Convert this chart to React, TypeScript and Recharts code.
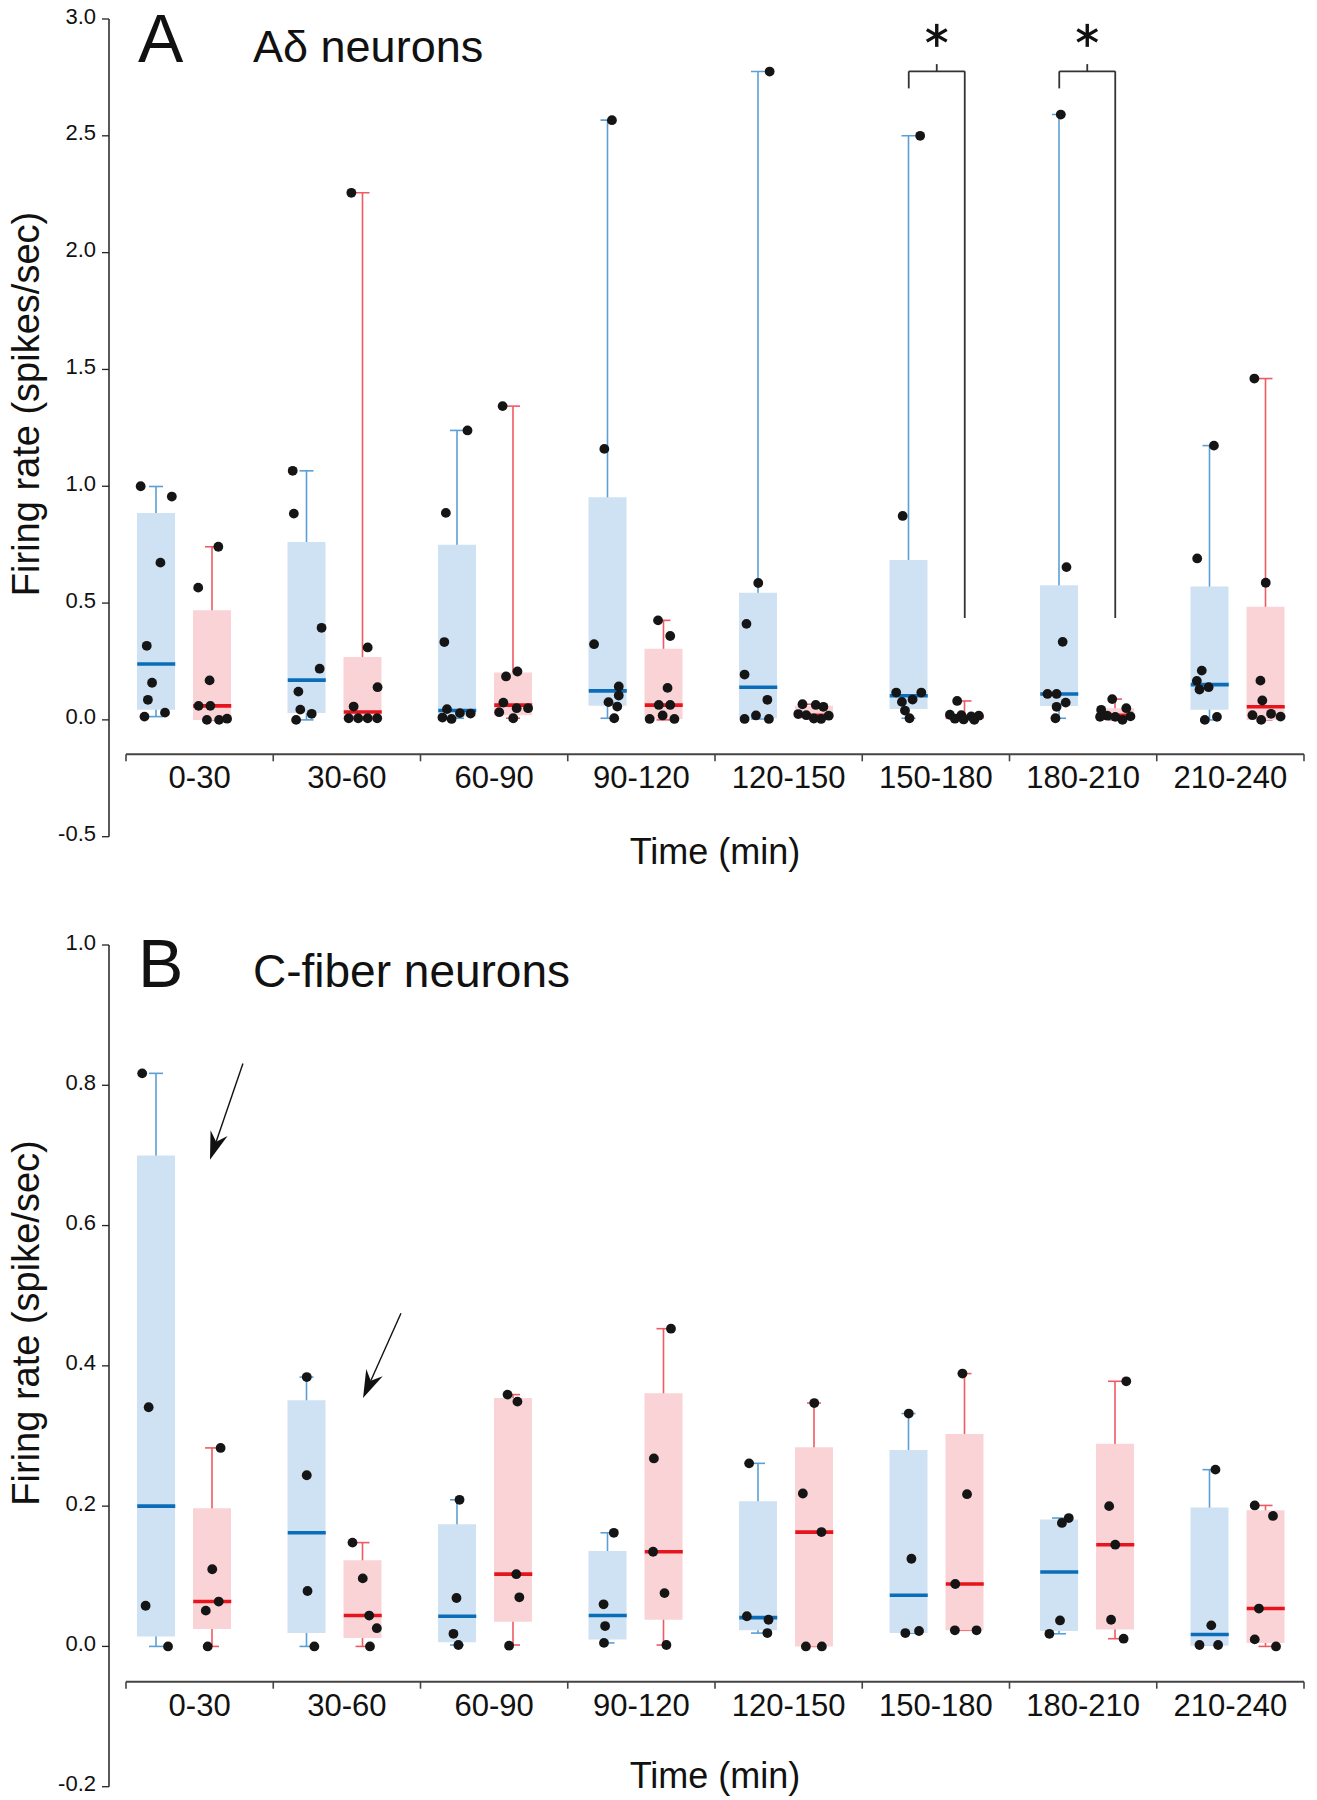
import React from 'react';
import { ComposedChart, Bar, Scatter, XAxis, YAxis, ReferenceLine, ReferenceDot } from 'recharts';

// ---------------- data ----------------
const CATEGORIES = ['0-30', '30-60', '60-90', '90-120', '120-150', '150-180', '180-210', '210-240'];
const X_TICKS = [0, 0.5, 1, 1.5, 2, 2.5, 3, 3.5, 4, 4.5, 5, 5.5, 6, 6.5, 7, 7.5, 8];
const A_Y_TICKS = [-0.5, 0, 0.5, 1, 1.5, 2, 2.5, 3];
const B_Y_TICKS = [-0.2, 0, 0.2, 0.4, 0.6, 0.8, 1];

// Panel A (Aδ neurons) — blue group
const A_BLUE_MIN = [0.014, 0.0, 0.007, 0.007, 0.004, 0.007, 0.007, 0.0];
const A_BLUE_Q1 = [0.043, 0.029, 0.014, 0.06, 0.007, 0.047, 0.059, 0.043];
const A_BLUE_MED = [0.239, 0.17, 0.04, 0.124, 0.14, 0.103, 0.111, 0.151];
const A_BLUE_Q3 = [0.886, 0.761, 0.75, 0.953, 0.544, 0.684, 0.576, 0.571];
const A_BLUE_MAX = [0.999, 1.066, 1.239, 2.567, 2.775, 2.5, 2.591, 1.174];
const A_BLUE_PTS = [
  [1.0, 0.956, 0.673, 0.317, 0.159, 0.086, 0.031, 0.014],
  [1.066, 0.883, 0.394, 0.219, 0.121, 0.044, 0.026, 0.0],
  [1.239, 0.886, 0.333, 0.046, 0.029, 0.027, 0.01, 0.004],
  [2.567, 1.16, 0.324, 0.143, 0.104, 0.076, 0.057, 0.007],
  [2.775, 0.586, 0.411, 0.194, 0.086, 0.019, 0.004, 0.004],
  [2.5, 0.873, 0.117, 0.117, 0.087, 0.077, 0.04, 0.007],
  [2.591, 0.654, 0.334, 0.111, 0.111, 0.074, 0.056, 0.007],
  [1.174, 0.691, 0.211, 0.167, 0.14, 0.13, 0.013, 0.0],
];
// Panel A — red group
const A_RED_MIN = [0.0, 0.0, 0.007, 0.0, 0.004, 0.0, 0.0, 0.0];
const A_RED_Q1 = [0.0, 0.0, 0.02, 0.004, 0.005, 0.002, 0.005, 0.0];
const A_RED_MED = [0.06, 0.034, 0.063, 0.063, 0.02, 0.014, 0.02, 0.056];
const A_RED_Q3 = [0.469, 0.269, 0.203, 0.304, 0.06, 0.022, 0.05, 0.484];
const A_RED_MAX = [0.741, 2.256, 1.343, 0.426, 0.067, 0.081, 0.089, 1.461];
const A_RED_PTS = [
  [0.741, 0.566, 0.169, 0.06, 0.06, 0.005, 0.0, 0.0],
  [2.256, 0.31, 0.14, 0.057, 0.007, 0.007, 0.007, 0.007],
  [1.343, 0.207, 0.186, 0.074, 0.05, 0.05, 0.033, 0.007],
  [0.426, 0.359, 0.137, 0.064, 0.064, 0.019, 0.004, 0.004],
  [0.067, 0.064, 0.056, 0.025, 0.02, 0.018, 0.006, 0.004],
  [0.081, 0.022, 0.02, 0.018, 0.015, 0.005, 0.002, 0.0],
  [0.089, 0.05, 0.043, 0.018, 0.015, 0.013, 0.013, 0.0],
  [1.461, 0.587, 0.168, 0.083, 0.026, 0.02, 0.014, 0.0],
];

// Panel B (C-fiber neurons) — blue group
const B_BLUE_MIN = [0.0, 0.0, 0.002, 0.005, 0.019, 0.019, 0.018, 0.002];
const B_BLUE_Q1 = [0.014, 0.019, 0.006, 0.01, 0.023, 0.019, 0.022, 0.001];
const B_BLUE_MED = [0.2, 0.162, 0.043, 0.044, 0.041, 0.073, 0.106, 0.017];
const B_BLUE_Q3 = [0.7, 0.351, 0.174, 0.136, 0.207, 0.28, 0.181, 0.198];
const B_BLUE_MAX = [0.817, 0.384, 0.209, 0.162, 0.261, 0.332, 0.183, 0.252];
const B_BLUE_PTS = [
  [0.817, 0.341, 0.058, 0.0],
  [0.384, 0.244, 0.079, 0.0],
  [0.209, 0.069, 0.018, 0.002],
  [0.162, 0.06, 0.029, 0.005],
  [0.261, 0.043, 0.038, 0.019],
  [0.332, 0.125, 0.022, 0.019],
  [0.183, 0.176, 0.037, 0.018],
  [0.252, 0.03, 0.002, 0.002],
];
// Panel B — red group
const B_RED_MIN = [0.0, 0.0, 0.002, 0.002, 0.0, 0.023, 0.011, 0.0];
const B_RED_Q1 = [0.025, 0.012, 0.035, 0.038, 0.0, 0.023, 0.024, 0.005];
const B_RED_MED = [0.064, 0.044, 0.103, 0.135, 0.163, 0.089, 0.145, 0.054];
const B_RED_Q3 = [0.197, 0.123, 0.354, 0.361, 0.284, 0.303, 0.289, 0.194];
const B_RED_MAX = [0.283, 0.148, 0.359, 0.453, 0.347, 0.389, 0.378, 0.201];
const B_RED_PTS = [
  [0.283, 0.11, 0.064, 0.051, 0.0],
  [0.148, 0.097, 0.044, 0.026, 0.0],
  [0.359, 0.349, 0.103, 0.07, 0.001],
  [0.453, 0.268, 0.135, 0.076, 0.002],
  [0.347, 0.218, 0.163, 0.0, 0.0],
  [0.389, 0.217, 0.089, 0.023, 0.023],
  [0.378, 0.2, 0.145, 0.038, 0.011],
  [0.201, 0.186, 0.054, 0.01, 0.0],
];

// ---------------- layout (not data) ----------------
// horizontal jitter of each dot, as a fraction of the box width
const A_BLUE_JIT = [
  [-0.41, 0.41, 0.11, -0.25, -0.11, -0.22, 0.23, -0.31],
  [-0.37, -0.34, 0.39, 0.34, -0.22, -0.17, 0.13, -0.28],
  [0.27, -0.3, -0.34, -0.27, 0.07, 0.35, -0.39, -0.15],
  [0.11, -0.09, -0.36, 0.29, 0.29, 0.02, 0.25, 0.17],
  [0.3, 0, -0.31, -0.36, 0.24, -0.06, -0.36, 0.28],
  [0.3, -0.16, -0.33, 0.33, 0.1, -0.18, -0.1, 0.02],
  [0.04, 0.19, 0.09, -0.31, -0.07, 0.17, -0.07, -0.1],
  [0.11, -0.33, -0.21, -0.34, -0.03, -0.27, 0.19, -0.13],
];
const A_RED_JIT = [
  [0.16, -0.37, -0.07, -0.36, -0.05, 0.39, -0.14, 0.18],
  [-0.3, 0.13, 0.39, -0.24, -0.37, -0.12, 0.13, 0.38],
  [-0.28, 0.11, -0.19, -0.26, 0.09, 0.39, -0.37, 0],
  [-0.15, 0.17, 0.1, -0.13, 0.17, -0.03, -0.37, 0.28],
  [-0.31, 0.04, 0.24, -0.42, -0.21, 0.38, -0.01, 0.18],
  [-0.2, -0.39, -0.09, 0.37, 0.17, -0.26, -0.03, 0.25],
  [-0.08, 0.29, -0.37, -0.21, 0.4, -0.4, 0, 0.19],
  [-0.3, 0, -0.14, -0.09, 0.14, -0.35, 0.39, -0.12],
];
const B_BLUE_JIT = [
  [-0.37, -0.2, -0.28, 0.31],
  [0, 0, 0.02, 0.2],
  [0.06, -0.02, -0.1, 0.03],
  [0.16, -0.11, -0.07, -0.1],
  [-0.24, -0.3, 0.27, 0.24],
  [0, 0.07, 0.27, -0.09],
  [0.25, 0.07, 0.02, -0.26],
  [0.15, 0.04, -0.27, 0.22],
];
const B_RED_JIT = [
  [0.22, 0, 0.17, -0.17, -0.12],
  [-0.27, 0, 0.17, 0.37, 0.19],
  [-0.15, 0.11, 0.08, 0.16, -0.11],
  [0.19, -0.26, -0.28, 0.02, 0.07],
  [0, -0.3, 0.19, -0.22, 0.2],
  [-0.06, 0.06, -0.25, -0.26, 0.31],
  [0.29, -0.16, 0, -0.11, 0.22],
  [-0.29, 0.19, -0.18, -0.29, 0.27],
];

// significance brackets (panel A), in data units
const SIG_CATS = [5, 6];
const BRACKET_TOP = 2.776;
const BRACKET_LEFT_END = 2.703;
const BRACKET_RIGHT_END = 0.436;
const BRACKET_TICK = 2.807;
const STAR_Y = 2.93;
// arrows (panel B): [tailX, tailY, tipX, tipY] in data units (x = category index scale)
const B_ARROWS = [
  [0.89, 0.831, 0.671, 0.694],
  [1.94, 0.475, 1.688, 0.354],
];
// extent of the visible time axis (category index units)
const X_EXTENT = [{ x: 0, y: 0 }, { x: 8, y: 1 }];

const FONT = '"Liberation Sans", Arial, Helvetica, sans-serif';
const PAGE_W = 1317;
const PANEL_H = 900;
const PLOT_L = 109;
const PLOT_R = 1313;
const BAND = (PLOT_R - PLOT_L) / CATEGORIES.length;
const BAR = 38;
const GAP = 18;
const BLUE_OFF = 0.5 - (BAR + GAP) / 2 / BAND;
const RED_OFF = 0.5 + (BAR + GAP) / 2 / BAND;
const BAR_U = BAR / BAND;
const XAX_L = 126;
const XAX_R = 1304;

const BLUE_FILL = '#cfe2f3';
const RED_FILL = '#fad3d6';
const BLUE_MED = '#0b6cb7';
const RED_MED = '#e5141d';
const BLUE_WH = '#5a9fd6';
const RED_WH = '#ef5a63';
const DOT = '#151515';
const INK = '#111';

// ---------------- helpers ----------------
function boxRows(bMin, bQ1, bQ3, bMax, rMin, rQ1, rQ3, rMax) {
  return CATEGORIES.map((cat, i) => ({
    cat,
    bW: [bMin[i], bMax[i]],
    bB: [bQ1[i], bQ3[i]],
    rW: [rMin[i], rMax[i]],
    rB: [rQ1[i], rQ3[i]],
  }));
}
function medRows(med, off) {
  return med.map((v, i) => ({ x: i + off, y: v }));
}
function ptRows(pts, jit, off) {
  const rows = [];
  pts.forEach((g, i) => g.forEach((v, k) => rows.push({ x: i + off + jit[i][k] * BAR_U, y: v })));
  return rows;
}

const whiskerShape = (color) => (p) => {
  const cx = p.x + p.width / 2;
  const top = Math.min(p.y, p.y + p.height);
  const bot = Math.max(p.y, p.y + p.height);
  return (
    <g>
      <line x1={cx} x2={cx} y1={top} y2={bot} stroke={color} strokeWidth={1.6} />
      <line x1={cx - 7} x2={cx + 7} y1={top} y2={top} stroke={color} strokeWidth={1.6} />
      <line x1={cx - 7} x2={cx + 7} y1={bot} y2={bot} stroke={color} strokeWidth={1.6} />
    </g>
  );
};
const medianShape = (color) => (p) => (
  <line x1={p.cx - BAR / 2} x2={p.cx + BAR / 2} y1={p.cy} y2={p.cy} stroke={color} strokeWidth={3.6} />
);
const dotShape = (p) => <circle cx={p.cx} cy={p.cy} r={4.9} fill={DOT} />;
const emptyShape = () => <g />;
const starShape = (p) => {
  const r = 11.5;
  const a = r * Math.cos(Math.PI / 6);
  const b = r * Math.sin(Math.PI / 6);
  return (
    <g stroke={INK} strokeWidth={3.4} strokeLinecap="butt">
      <line x1={p.cx} x2={p.cx} y1={p.cy - r} y2={p.cy + r} />
      <line x1={p.cx - a} x2={p.cx + a} y1={p.cy - b} y2={p.cy + b} />
      <line x1={p.cx - a} x2={p.cx + a} y1={p.cy + b} y2={p.cy - b} />
    </g>
  );
};
const arrowShape = (p) => {
  const { x1, y1, x2, y2 } = p;
  const dx = x2 - x1;
  const dy = y2 - y1;
  const L = Math.hypot(dx, dy) || 1;
  const ux = dx / L;
  const uy = dy / L;
  const nx = -uy;
  const ny = ux;
  const len = 28;
  const hw = 9;
  const notch = 19;
  const bx = x2 - ux * len;
  const by = y2 - uy * len;
  const mx = x2 - ux * notch;
  const my = y2 - uy * notch;
  const pts = `${x2},${y2} ${bx + nx * hw},${by + ny * hw} ${mx},${my} ${bx - nx * hw},${by - ny * hw}`;
  return (
    <g>
      <line x1={x1} y1={y1} x2={mx} y2={my} stroke={INK} strokeWidth={1.4} />
      <polygon points={pts} fill={INK} />
    </g>
  );
};

const YTick = (p) => (
  <text x={p.x} y={p.y} dy={4.5} textAnchor="end" fontSize={22} fill={INK}>
    {Number(p.payload.value).toFixed(1)}
  </text>
);
const XTick = (p) => {
  const v = Number(p.payload.value);
  if (Number.isInteger(v)) {
    return <line x1={p.x} x2={p.x} y1={p.y} y2={p.y + 7} stroke="#444" strokeWidth={1.6} />;
  }
  return (
    <text x={p.x} y={p.y + 34} textAnchor="middle" fontSize={31} fill={INK}>
      {CATEGORIES[Math.floor(v)]}
    </text>
  );
};

function DataChart({ rows, bMed, rMed, bPts, rPts, domain, ticks, top, bottom, children }) {
  return (
    <ComposedChart
      width={PAGE_W}
      height={PANEL_H}
      data={rows}
      barGap={GAP}
      margin={{ top, right: PAGE_W - PLOT_R, bottom, left: PLOT_L - 60 }}
    >
      <XAxis xAxisId="w" dataKey="cat" hide />
      <XAxis xAxisId="b" dataKey="cat" hide />
      <XAxis xAxisId="num" dataKey="x" type="number" domain={[0, 8]} allowDataOverflow hide />
      <YAxis
        width={60}
        domain={domain}
        ticks={ticks}
        interval={0}
        allowDataOverflow
        tickSize={7}
        tickMargin={6}
        tick={YTick}
        tickLine={{ stroke: '#222', strokeWidth: 1.3 }}
        axisLine={{ stroke: '#222', strokeWidth: 1.5 }}
      />
      <Bar xAxisId="w" dataKey="bW" barSize={BAR} shape={whiskerShape(BLUE_WH)} isAnimationActive={false} />
      <Bar xAxisId="w" dataKey="rW" barSize={BAR} shape={whiskerShape(RED_WH)} isAnimationActive={false} />
      <Bar xAxisId="b" dataKey="bB" barSize={BAR} fill={BLUE_FILL} isAnimationActive={false} />
      <Bar xAxisId="b" dataKey="rB" barSize={BAR} fill={RED_FILL} isAnimationActive={false} />
      <Scatter xAxisId="num" data={bMed} dataKey="y" shape={medianShape(BLUE_MED)} isAnimationActive={false} />
      <Scatter xAxisId="num" data={rMed} dataKey="y" shape={medianShape(RED_MED)} isAnimationActive={false} />
      <Scatter xAxisId="num" data={bPts} dataKey="y" shape={dotShape} isAnimationActive={false} />
      <Scatter xAxisId="num" data={rPts} dataKey="y" shape={dotShape} isAnimationActive={false} />
      {children}
    </ComposedChart>
  );
}

function AxisChart({ top, bottom, height, offset }) {
  return (
    <ComposedChart width={PAGE_W} height={PANEL_H} margin={{ top, right: PAGE_W - XAX_R, bottom, left: XAX_L }}>
      <XAxis
        dataKey="x"
        type="number"
        domain={[0, 8]}
        ticks={X_TICKS}
        interval={0}
        tickSize={0}
        tickMargin={0}
        tickLine={false}
        axisLine={{ stroke: '#444', strokeWidth: 2 }}
        height={height}
        tick={XTick}
        label={{ value: 'Time (min)', position: 'insideBottom', offset, fontSize: 36, fill: INK }}
      />
      <YAxis hide domain={[0, 1]} />
      <Scatter data={X_EXTENT} dataKey="y" shape={emptyShape} isAnimationActive={false} />
    </ComposedChart>
  );
}

const lineStyle = { stroke: '#333', strokeWidth: 1.8 };

export default function App() {
  const rowsA = boxRows(A_BLUE_MIN, A_BLUE_Q1, A_BLUE_Q3, A_BLUE_MAX, A_RED_MIN, A_RED_Q1, A_RED_Q3, A_RED_MAX);
  const rowsB = boxRows(B_BLUE_MIN, B_BLUE_Q1, B_BLUE_Q3, B_BLUE_MAX, B_RED_MIN, B_RED_Q1, B_RED_Q3, B_RED_MAX);

  return (
    <div style={{ position: 'absolute', left: 0, top: 0, width: PAGE_W, height: 1800, fontFamily: FONT, background: '#fff' }}>
      <div style={{ position: 'absolute', left: 0, top: 0 }}>
        <DataChart
          rows={rowsA}
          bMed={medRows(A_BLUE_MED, BLUE_OFF)}
          rMed={medRows(A_RED_MED, RED_OFF)}
          bPts={ptRows(A_BLUE_PTS, A_BLUE_JIT, BLUE_OFF)}
          rPts={ptRows(A_RED_PTS, A_RED_JIT, RED_OFF)}
          domain={[-0.5, 3]}
          ticks={A_Y_TICKS}
          top={19}
          bottom={63.3}
        >
          {SIG_CATS.map((s) => {
            const xl = s + BLUE_OFF;
            const xr = s + RED_OFF;
            const xm = s + 0.5;
            return [
              <ReferenceLine key={`h${s}`} xAxisId="num" segment={[{ x: xl, y: BRACKET_TOP }, { x: xr, y: BRACKET_TOP }]} {...lineStyle} />,
              <ReferenceLine key={`l${s}`} xAxisId="num" segment={[{ x: xl, y: BRACKET_TOP }, { x: xl, y: BRACKET_LEFT_END }]} {...lineStyle} />,
              <ReferenceLine key={`r${s}`} xAxisId="num" segment={[{ x: xr, y: BRACKET_TOP }, { x: xr, y: BRACKET_RIGHT_END }]} {...lineStyle} />,
              <ReferenceLine key={`t${s}`} xAxisId="num" segment={[{ x: xm, y: BRACKET_TOP }, { x: xm, y: BRACKET_TICK }]} {...lineStyle} />,
              <ReferenceDot key={`s${s}`} xAxisId="num" x={xm} y={STAR_Y} shape={starShape} />,
            ];
          })}
        </DataChart>
      </div>
      <div style={{ position: 'absolute', left: 0, top: 0 }}>
        <AxisChart top={19} bottom={25.7} height={120} offset={10.3} />
      </div>

      <div style={{ position: 'absolute', left: 0, top: PANEL_H }}>
        <DataChart
          rows={rowsB}
          bMed={medRows(B_BLUE_MED, BLUE_OFF)}
          rMed={medRows(B_RED_MED, RED_OFF)}
          bPts={ptRows(B_BLUE_PTS, B_BLUE_JIT, BLUE_OFF)}
          rPts={ptRows(B_RED_PTS, B_RED_JIT, RED_OFF)}
          domain={[-0.2, 1]}
          ticks={B_Y_TICKS}
          top={45}
          bottom={13.3}
        >
          {B_ARROWS.map((a, i) => (
            <ReferenceLine
              key={`a${i}`}
              xAxisId="num"
              segment={[{ x: a[0], y: a[1] }, { x: a[2], y: a[3] }]}
              shape={arrowShape}
            />
          ))}
        </DataChart>
      </div>
      <div style={{ position: 'absolute', left: 0, top: PANEL_H }}>
        <AxisChart top={45} bottom={8.3} height={110} offset={3.7} />
      </div>

      <svg width={PAGE_W} height={1800} style={{ position: 'absolute', left: 0, top: 0, pointerEvents: 'none' }}>
        <text x={138} y={62} fontSize={68} fill={INK}>A</text>
        <text x={253} y={62} fontSize={45} fill={INK}>Aδ neurons</text>
        <text x={138} y={987} fontSize={68} fill={INK}>B</text>
        <text x={253} y={987} fontSize={46} fill={INK}>C-fiber neurons</text>
        <text transform="translate(39,404) rotate(-90)" textAnchor="middle" fontSize={38} fill={INK}>
          Firing rate (spikes/sec)
        </text>
        <text transform="translate(39,1323) rotate(-90)" textAnchor="middle" fontSize={38} fill={INK}>
          Firing rate (spike/sec)
        </text>
      </svg>
    </div>
  );
}
